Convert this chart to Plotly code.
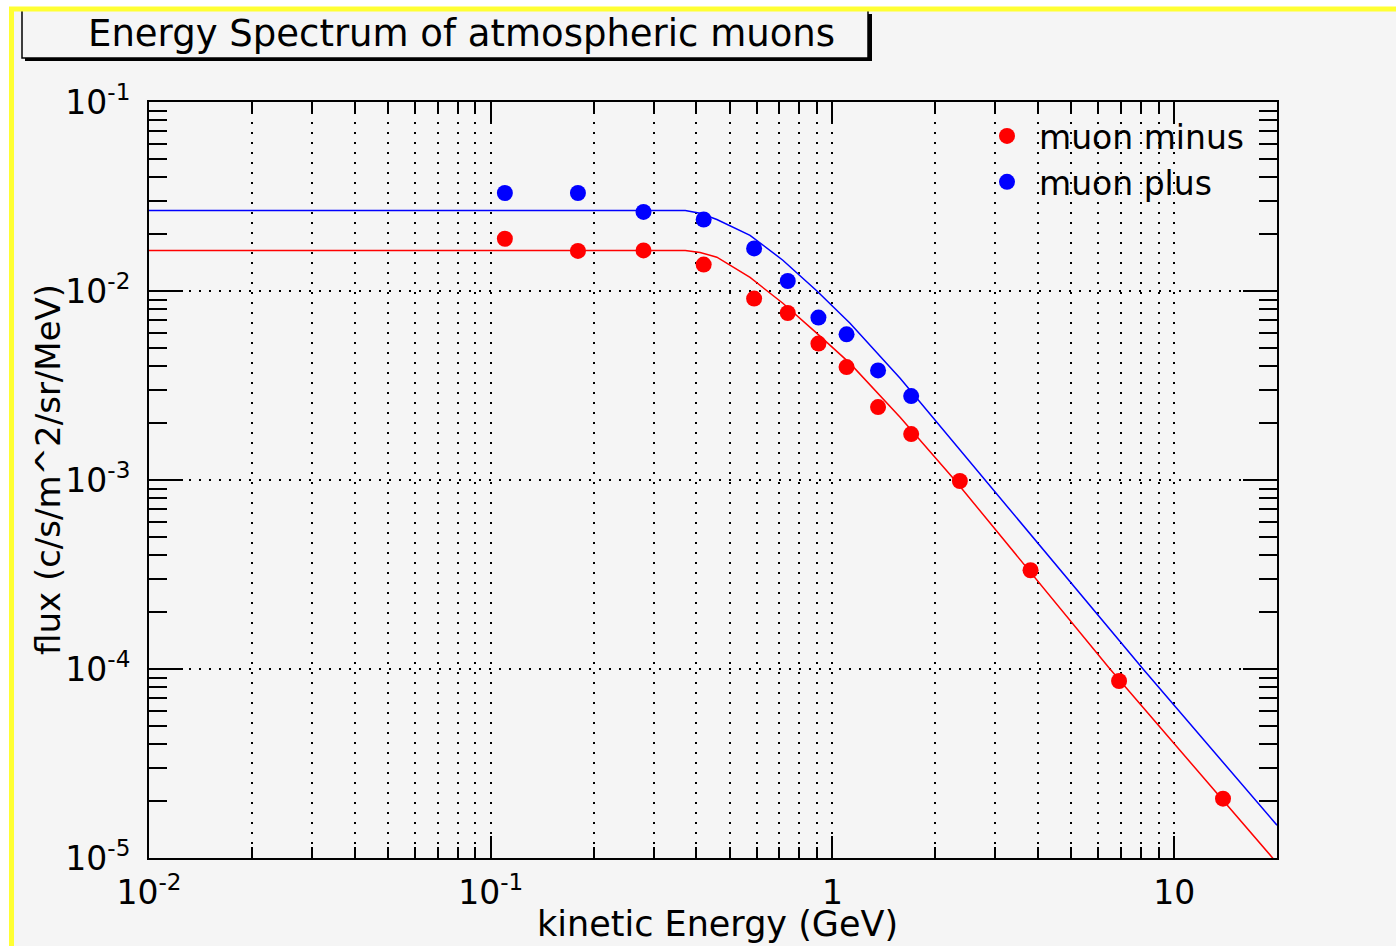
import numpy as np
import plotly.graph_objects as go

# ---------------- data ----------------
energy_pts = [0.11, 0.18, 0.28, 0.42, 0.59, 0.74, 0.91, 1.1, 1.36, 1.7, 2.36, 3.8, 6.9, 13.9]
flux_minus = [0.0189, 0.0163, 0.0164, 0.0138, 0.00912, 0.00765, 0.00527, 0.00396,
              0.00243, 0.00175, 0.000988, 0.000333, 8.64e-5, 2.06e-5]

energy_plus = [0.11, 0.18, 0.28, 0.42, 0.59, 0.74, 0.91, 1.1, 1.36, 1.7]
flux_plus = [0.0330, 0.0330, 0.0262, 0.0239, 0.0168, 0.0113, 0.00723, 0.0059, 0.0038, 0.00278]

# fitted curves (vertices)
fit_minus_x = [0.01, 0.371, 0.410, 0.459, 0.574, 0.716, 0.901, 1.126, 1.578, 2.28, 6.49, 19.5, 20.0]
fit_minus_y = [0.0164, 0.0164, 0.0160, 0.0151, 0.0118, 0.00861, 0.00597, 0.00414, 0.00215,
               1e-3, 1e-4, 1e-5, 9.4e-6]
fit_plus_x = [0.01, 0.371, 0.410, 0.459, 0.574, 0.716, 0.901, 1.126, 1.578, 2.80, 8.11, 20.0]
fit_plus_y = [0.0267, 0.0267, 0.0258, 0.0239, 0.0197, 0.01455, 0.0100, 0.00675, 0.00345,
              1e-3, 1e-4, 1.49e-5]

x_tickvals = [0.01, 0.1, 1, 10]
x_ticktext = ["10<sup>-2</sup>", "10<sup>-1</sup>", "1", "10"]
y_tickvals = [1e-5, 1e-4, 1e-3, 1e-2, 1e-1]
y_ticktext = ["10<sup>-5</sup>", "10<sup>-4</sup>", "10<sup>-3</sup>", "10<sup>-2</sup>", "10<sup>-1</sup>"]

x_minor = [m * d for d in (0.01, 0.1, 1, 10) for m in range(2, 10) if m * d <= 20]
y_minor = [m * d for d in (1e-5, 1e-4, 1e-3, 1e-2) for m in range(2, 10)]

title_text = "Energy Spectrum of atmospheric muons"
x_title = "kinetic Energy (GeV)"
y_title = "flux (c/s/m^2/sr/MeV)"

# ---------------- layout geometry ----------------
W, H = 1396, 946
L, R, T, B = 149, 119, 102, 88
PW, PH = W - L - R, H - T - B


def px(x):
    return (x - L) / PW


def py(y):
    return (H - B - y) / PH


FONT = "DejaVu Sans"
GRIDDASH = "2px,8px"

fig = go.Figure()

fig.add_trace(go.Scatter(x=fit_minus_x, y=fit_minus_y, mode="lines",
                         line=dict(color="#ff0000", width=1.5), showlegend=False, hoverinfo="skip"))
fig.add_trace(go.Scatter(x=fit_plus_x, y=fit_plus_y, mode="lines",
                         line=dict(color="#0000ff", width=1.5), showlegend=False, hoverinfo="skip"))
fig.add_trace(go.Scatter(x=energy_pts, y=flux_minus, mode="markers", name="muon minus",
                         marker=dict(color="#ff0000", size=16, line=dict(width=0))))
fig.add_trace(go.Scatter(x=energy_plus, y=flux_plus, mode="markers", name="muon plus",
                         marker=dict(color="#0000ff", size=16, line=dict(width=0))))

axis_common = dict(
    type="log", showline=True, linecolor="black", linewidth=2, mirror="ticks",
    ticks="inside", tickcolor="black", tickwidth=2,
    showgrid=True, gridcolor="black", gridwidth=1.5, griddash=GRIDDASH,
    zeroline=False, tickmode="array",
    tickfont=dict(family=FONT, size=33, color="black"),
)

fig.update_xaxes(**axis_common, range=[-2, np.log10(20)], tickvals=x_tickvals, ticktext=x_ticktext,
                 ticklen=22, ticklabelstandoff=4,
                 minor=dict(tickmode="array", tickvals=x_minor, ticks="inside", ticklen=11,
                            tickcolor="black", tickwidth=1.5, showgrid=True, gridcolor="black",
                            gridwidth=1.5, griddash=GRIDDASH))
fig.update_yaxes(**axis_common, range=[-5, -1], tickvals=y_tickvals, ticktext=y_ticktext,
                 ticklen=34, ticklabelstandoff=10,
                 minor=dict(tickmode="array", tickvals=y_minor, ticks="inside", ticklen=18,
                            tickcolor="black", tickwidth=2, showgrid=False))

shapes = [
    # page background inside the yellow frame
    dict(type="rect", xref="paper", yref="paper", layer="below",
         x0=px(11.5), x1=px(1500), y0=py(9), y1=py(1100),
         fillcolor="#f5f5f5", line=dict(width=0)),
    # title box shadow
    dict(type="rect", xref="paper", yref="paper", layer="above",
         x0=px(25), x1=px(872), y0=py(14), y1=py(61),
         fillcolor="black", line=dict(width=0)),
    # title box
    dict(type="rect", xref="paper", yref="paper", layer="above",
         x0=px(22), x1=px(868), y0=py(10), y1=py(58),
         fillcolor="#f5f5f5", line=dict(color="black", width=1.5)),
    # yellow frame (left + top)
    dict(type="rect", xref="paper", yref="paper", layer="above",
         x0=px(11.5), x1=px(1500), y0=py(9), y1=py(1100),
         fillcolor="rgba(0,0,0,0)", line=dict(color="#ffff33", width=5)),
]

annotations = [
    dict(text=title_text, xref="paper", yref="paper", x=px(461), y=py(33),
         xanchor="center", yanchor="middle", showarrow=False,
         font=dict(family=FONT, size=37, color="black")),
    dict(text=x_title, xref="paper", yref="paper", x=px(717), y=py(924),
         xanchor="center", yanchor="middle", showarrow=False,
         font=dict(family=FONT, size=35, color="black")),
    dict(text=y_title, xref="paper", yref="paper", x=px(48), y=py(470),
         xanchor="center", yanchor="middle", showarrow=False, textangle=-90,
         font=dict(family=FONT, size=34, color="black")),
]

fig.update_layout(
    width=W, height=H,
    margin=dict(l=L, r=R, t=T, b=B, autoexpand=False),
    paper_bgcolor="white", plot_bgcolor="rgba(0,0,0,0)",
    shapes=shapes, annotations=annotations,
    showlegend=True,
    legend=dict(x=px(975), y=py(108), xanchor="left", yanchor="top",
                bgcolor="rgba(0,0,0,0)", borderwidth=0,
                font=dict(family=FONT, size=33, color="black"),
                itemwidth=54, tracegroupgap=0),
)

fig.write_html("out.html")
